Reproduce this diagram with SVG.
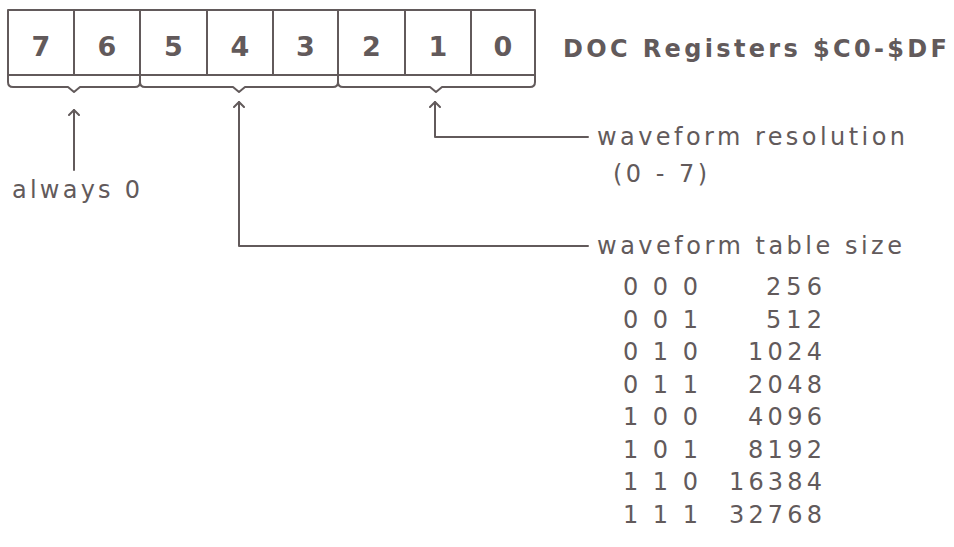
<svg xmlns="http://www.w3.org/2000/svg" width="954" height="547" viewBox="0 0 954 547">
<defs>
<style>
.ln{fill:none;stroke:#625a5b;stroke-width:2;stroke-linejoin:round;stroke-linecap:round}
.t{font-family:"DejaVu Sans","Liberation Sans",sans-serif;font-size:24px;fill:#625a5b}
.d{font-family:"DejaVu Sans","Liberation Sans",sans-serif;font-size:27px;font-weight:bold;fill:#625a5b;text-anchor:middle}
.h{font-family:"DejaVu Sans","Liberation Sans",sans-serif;font-size:24px;font-weight:bold;fill:#625a5b}
</style>
<marker id="ah" viewBox="-6 -6 12 12" markerWidth="12" markerHeight="12" refX="0" refY="0" orient="auto" markerUnits="userSpaceOnUse">
<path d="M-5,-5 L0,0 L-5,5" fill="none" stroke="#625a5b" stroke-width="2" stroke-linecap="round" stroke-linejoin="round"/>
</marker>
</defs>
<rect width="954" height="547" fill="#ffffff"/>
<g id="register">
<rect class="ln" x="8" y="10" width="527" height="65"/>
<path class="ln" d="M74,10V75M140,10V75M207,10V75M273,10V75M338,10V75M405,10V75M471,10V75"/>
<text class="d" x="41" y="56">7</text>
<text class="d" x="107" y="56">6</text>
<text class="d" x="173.5" y="56">5</text>
<text class="d" x="240" y="56">4</text>
<text class="d" x="305.5" y="56">3</text>
<text class="d" x="371.5" y="56">2</text>
<text class="d" x="438" y="56">1</text>
<text class="d" x="503" y="56">0</text>
</g>
<g id="braces">
<path class="ln" d="M8,75V82Q8,87 13,87H68L74,92L80,87H135Q140,87 140,82V75"/>
<path class="ln" d="M140,75V82Q140,87 145,87H233L239,92L245,87H333Q338,87 338,82V75"/>
<path class="ln" d="M338,75V82Q338,87 343,87H430L436,92L442,87H530Q535,87 535,82V75"/>
</g>
<g id="title">
<text class="h" x="563" y="57" textLength="384" lengthAdjust="spacing">DOC Registers $C0-$DF</text>
</g>
<g id="connectors">
<path class="ln" d="M74,170V110" marker-end="url(#ah)"/>
<path class="ln" d="M588,137H435V102" marker-end="url(#ah)"/>
<path class="ln" d="M588,246H239V102" marker-end="url(#ah)"/>
</g>
<g id="always0">
<text class="t" x="12" y="198" textLength="128" lengthAdjust="spacing">always 0</text>
</g>
<g id="resolution">
<text class="t" x="597" y="145" textLength="308" lengthAdjust="spacing">waveform resolution</text>
<text class="t" x="613" y="182" textLength="94" lengthAdjust="spacing">(0 - 7)</text>
</g>
<g id="tablesize">
<text class="t" x="597" y="254" textLength="305" lengthAdjust="spacing">waveform table size</text>
<text class="t" x="623" y="295" textLength="75" lengthAdjust="spacing">0 0 0</text>
<text class="t" x="766" y="295" textLength="56" lengthAdjust="spacing">256</text>
<text class="t" x="623" y="327.5" textLength="75" lengthAdjust="spacing">0 0 1</text>
<text class="t" x="766" y="327.5" textLength="56" lengthAdjust="spacing">512</text>
<text class="t" x="623" y="360" textLength="75" lengthAdjust="spacing">0 1 0</text>
<text class="t" x="748" y="360" textLength="74" lengthAdjust="spacing">1024</text>
<text class="t" x="623" y="392.5" textLength="75" lengthAdjust="spacing">0 1 1</text>
<text class="t" x="748" y="392.5" textLength="74" lengthAdjust="spacing">2048</text>
<text class="t" x="623" y="425" textLength="75" lengthAdjust="spacing">1 0 0</text>
<text class="t" x="748" y="425" textLength="74" lengthAdjust="spacing">4096</text>
<text class="t" x="623" y="457.5" textLength="75" lengthAdjust="spacing">1 0 1</text>
<text class="t" x="748" y="457.5" textLength="74" lengthAdjust="spacing">8192</text>
<text class="t" x="623" y="490" textLength="75" lengthAdjust="spacing">1 1 0</text>
<text class="t" x="729" y="490" textLength="93" lengthAdjust="spacing">16384</text>
<text class="t" x="623" y="522.5" textLength="75" lengthAdjust="spacing">1 1 1</text>
<text class="t" x="729" y="522.5" textLength="93" lengthAdjust="spacing">32768</text>
</g>
</svg>
